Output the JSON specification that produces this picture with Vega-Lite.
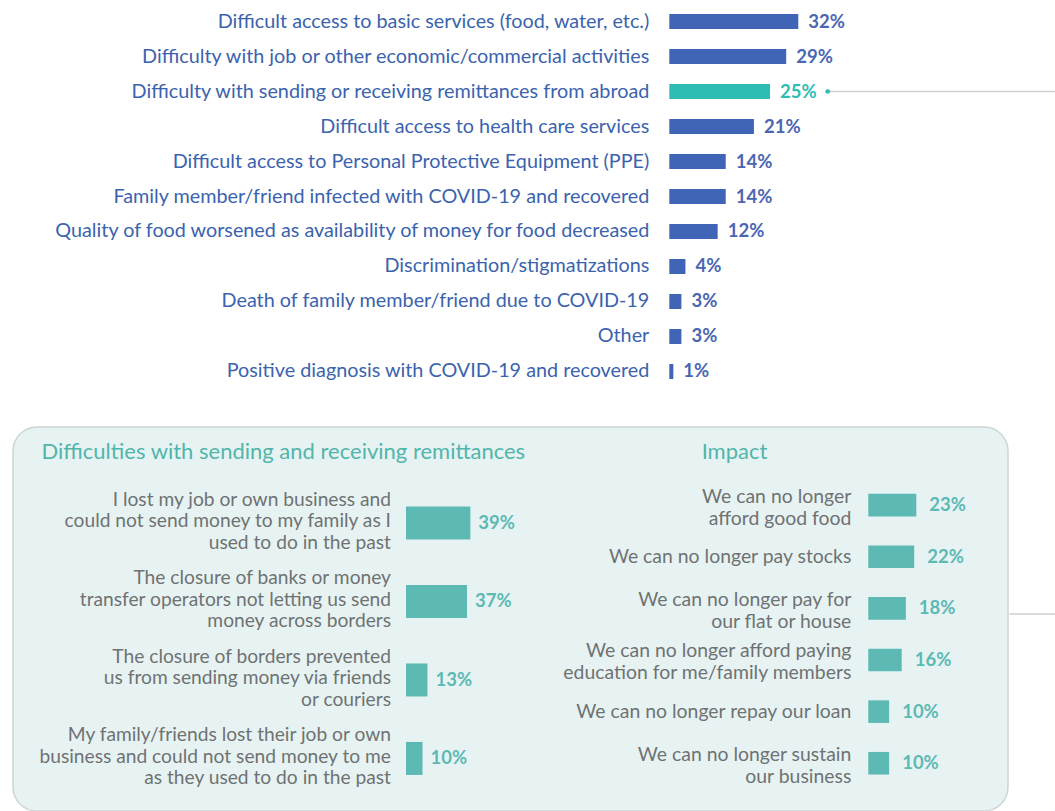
{
  "$schema": "https://vega.github.io/schema/vega-lite/v6.json",
  "padding": {"left": 12, "top": 0, "right": 0, "bottom": 0},
  "background": "white",
  "spacing": 33,
  "config": {"view": {"stroke": null}, "font": "Lato"},
  "vconcat": [
    {
      "width": 1043,
      "height": 393,
      "data": {"values": [
        {"cat": "Difficult access to basic services (food, water, etc.)", "value": 32, "label": "32%"},
        {"cat": "Difficulty with job or other economic/commercial activities", "value": 29, "label": "29%"},
        {"cat": "Difficulty with sending or receiving remittances from abroad", "value": 25, "label": "25%"},
        {"cat": "Difficult access to health care services", "value": 21, "label": "21%"},
        {"cat": "Difficult access to Personal Protective Equipment (PPE)", "value": 14, "label": "14%"},
        {"cat": "Family member/friend infected with COVID-19 and recovered", "value": 14, "label": "14%"},
        {"cat": "Quality of food worsened as availability of money for food decreased", "value": 12, "label": "12%"},
        {"cat": "Discrimination/stigmatizations", "value": 4, "label": "4%"},
        {"cat": "Death of family member/friend due to COVID-19", "value": 3, "label": "3%"},
        {"cat": "Other", "value": 3, "label": "3%"},
        {"cat": "Positive diagnosis with COVID-19 and recovered", "value": 1, "label": "1%"}
      ]},
      "encoding": {
        "y": {"field": "cat", "type": "nominal", "sort": null, "axis": null,
              "scale": {"paddingInner": 0.571, "paddingOuter": 0.4}}
      },
      "layer": [
        {
          "mark": {"type": "bar"},
          "encoding": {
            "x": {"field": "value", "type": "quantitative", "axis": null,
                  "scale": {"domain": [-162.85, 95.95], "nice": false, "zero": false}},
            "color": {"condition": {"test": "datum.cat === 'Difficulty with sending or receiving remittances from abroad'", "value": "#2ebdb3"}, "value": "#4065b7"}
          }
        },
        {
          "mark": {"type": "text", "align": "right", "baseline": "middle", "dx": -20, "fontSize": 19.8, "color": "#3b63ae"},
          "encoding": {"x": {"datum": 0}, "text": {"field": "cat"}}
        },
        {
          "mark": {"type": "text", "align": "left", "baseline": "middle", "dx": 10, "fontSize": 18.5, "fontWeight": "bold"},
          "encoding": {
            "x": {"field": "value", "type": "quantitative"},
            "text": {"field": "label"},
            "color": {"condition": {"test": "datum.cat === 'Difficulty with sending or receiving remittances from abroad'", "value": "#2ebdb3"}, "value": "#4a66b2"}
          }
        },
        {
          "data": {"values": [{}]},
          "mark": {"type": "rule", "color": "#cfcfcf", "strokeWidth": 1.5},
          "encoding": {
            "x": {"datum": 39.3}, "x2": {"datum": 95.95},
            "y": {"datum": "Difficulty with sending or receiving remittances from abroad"}
          }
        },
        {
          "data": {"values": [{}]},
          "mark": {"type": "point", "filled": true, "size": 22, "opacity": 1, "color": "#2ebdb3"},
          "encoding": {
            "x": {"datum": 39.3},
            "y": {"datum": "Difficulty with sending or receiving remittances from abroad"}
          }
        }
      ]
    },
    {
      "width": 995,
      "height": 384,
      "view": {"fill": "#e7f3f3", "stroke": "#cdd5d5", "strokeWidth": 1.5, "cornerRadius": 24},
      "layer": [
        {
          "data": {"values": [
            {"cat": "I lost my job or own business and\ncould not send money to my family as I\nused to do in the past", "value": 39, "label": "39%"},
            {"cat": "The closure of banks or money\ntransfer operators not letting us send\nmoney across borders", "value": 37, "label": "37%"},
            {"cat": "The closure of borders prevented\nus from sending money via friends\nor couriers", "value": 13, "label": "13%"},
            {"cat": "My family/friends lost their job or own\nbusiness and could not send money to me\nas they used to do in the past", "value": 10, "label": "10%"}
          ]},
          "encoding": {
            "y": {"field": "cat", "type": "nominal", "sort": null, "axis": null,
                  "scale": {"paddingInner": 0.5796, "paddingOuter": 0.7357, "align": 0.688}}
          },
          "layer": [
            {
              "mark": {"type": "bar", "color": "#5db9b3"},
              "encoding": {
                "x": {"field": "value", "type": "quantitative",
                      "scale": {"domain": [-238.18, 364.85], "nice": false, "zero": false},
                      "axis": {"orient": "top", "title": "Difficulties with sending and receiving remittances", "domain": false, "ticks": false, "labels": false, "grid": false,
                               "titleX": 28, "titleY": 24, "titleAlign": "left", "titleBaseline": "middle", "titleAngle": 0,
                               "titleFontSize": 22, "titleFontWeight": "normal", "titleColor": "#52b5aa", "titleFont": "Lato"}}
              }
            },
            {
              "mark": {"type": "text", "align": "right", "baseline": "middle", "dx": -15, "dy": -23, "fontSize": 19.2, "lineHeight": 21.5, "lineBreak": "\n", "color": "#6f7272"},
              "encoding": {"x": {"datum": 0}, "text": {"field": "cat"}}
            },
            {
              "mark": {"type": "text", "align": "left", "baseline": "middle", "dx": 8, "fontSize": 18.5, "fontWeight": "bold", "color": "#5db9b3"},
              "encoding": {"x": {"field": "value", "type": "quantitative"}, "text": {"field": "label"}}
            }
          ]
        },
        {
          "data": {"values": [
            {"cat": "We can no longer\nafford good food", "value": 23, "label": "23%"},
            {"cat": "We can no longer pay stocks", "value": 22, "label": "22%"},
            {"cat": "We can no longer pay for\nour flat or house", "value": 18, "label": "18%"},
            {"cat": "We can no longer afford paying\neducation for me/family members", "value": 16, "label": "16%"},
            {"cat": "We can no longer repay our loan", "value": 10, "label": "10%"},
            {"cat": "We can no longer sustain\nour business", "value": 10, "label": "10%"}
          ]},
          "encoding": {
            "y": {"field": "cat", "type": "nominal", "sort": null, "axis": null,
                  "scale": {"paddingInner": 0.5623, "paddingOuter": 1.15, "align": 0.647}}
          },
          "layer": [
            {
              "mark": {"type": "bar", "color": "#5db9b3"},
              "encoding": {
                "x": {"field": "value", "type": "quantitative",
                      "scale": {"domain": [-409.8, 66.94], "nice": false, "zero": false},
                      "axis": {"orient": "bottom", "title": "Impact", "domain": false, "ticks": false, "labels": false, "grid": false,
                               "titleX": 721, "titleY": -360, "titleAlign": "center", "titleBaseline": "middle", "titleAngle": 0,
                               "titleFontSize": 22, "titleFontWeight": "normal", "titleColor": "#52b5aa", "titleFont": "Lato"}}
              }
            },
            {
              "transform": [{"filter": "indexof(datum.cat, '\\n') >= 0"}],
              "mark": {"type": "text", "align": "right", "baseline": "middle", "dx": -17, "dy": -8.5, "fontSize": 19.4, "lineHeight": 22, "lineBreak": "\n", "color": "#6f7272"},
              "encoding": {"x": {"datum": 0}, "text": {"field": "cat"}}
            },
            {
              "transform": [{"filter": "indexof(datum.cat, '\\n') < 0"}],
              "mark": {"type": "text", "align": "right", "baseline": "middle", "dx": -17, "fontSize": 19.4, "color": "#6f7272"},
              "encoding": {"x": {"datum": 0}, "text": {"field": "cat"}}
            },
            {
              "mark": {"type": "text", "align": "left", "baseline": "middle", "dx": 13, "fontSize": 18.5, "fontWeight": "bold", "color": "#5db9b3"},
              "encoding": {"x": {"field": "value", "type": "quantitative"}, "text": {"field": "label"}}
            },
            {
              "data": {"values": [{}]},
              "mark": {"type": "rule", "color": "#cfcfcf", "strokeWidth": 1.5},
              "encoding": {
                "x": {"datum": 67.6}, "x2": {"datum": 90},
                "y": {"datum": "We can no longer pay for\nour flat or house", "bandPosition": 0.75}
              }
            }
          ]
        }
      ],
      "resolve": {"scale": {"x": "independent", "y": "independent"}, "axis": {"x": "independent"}}
    }
  ]
}
